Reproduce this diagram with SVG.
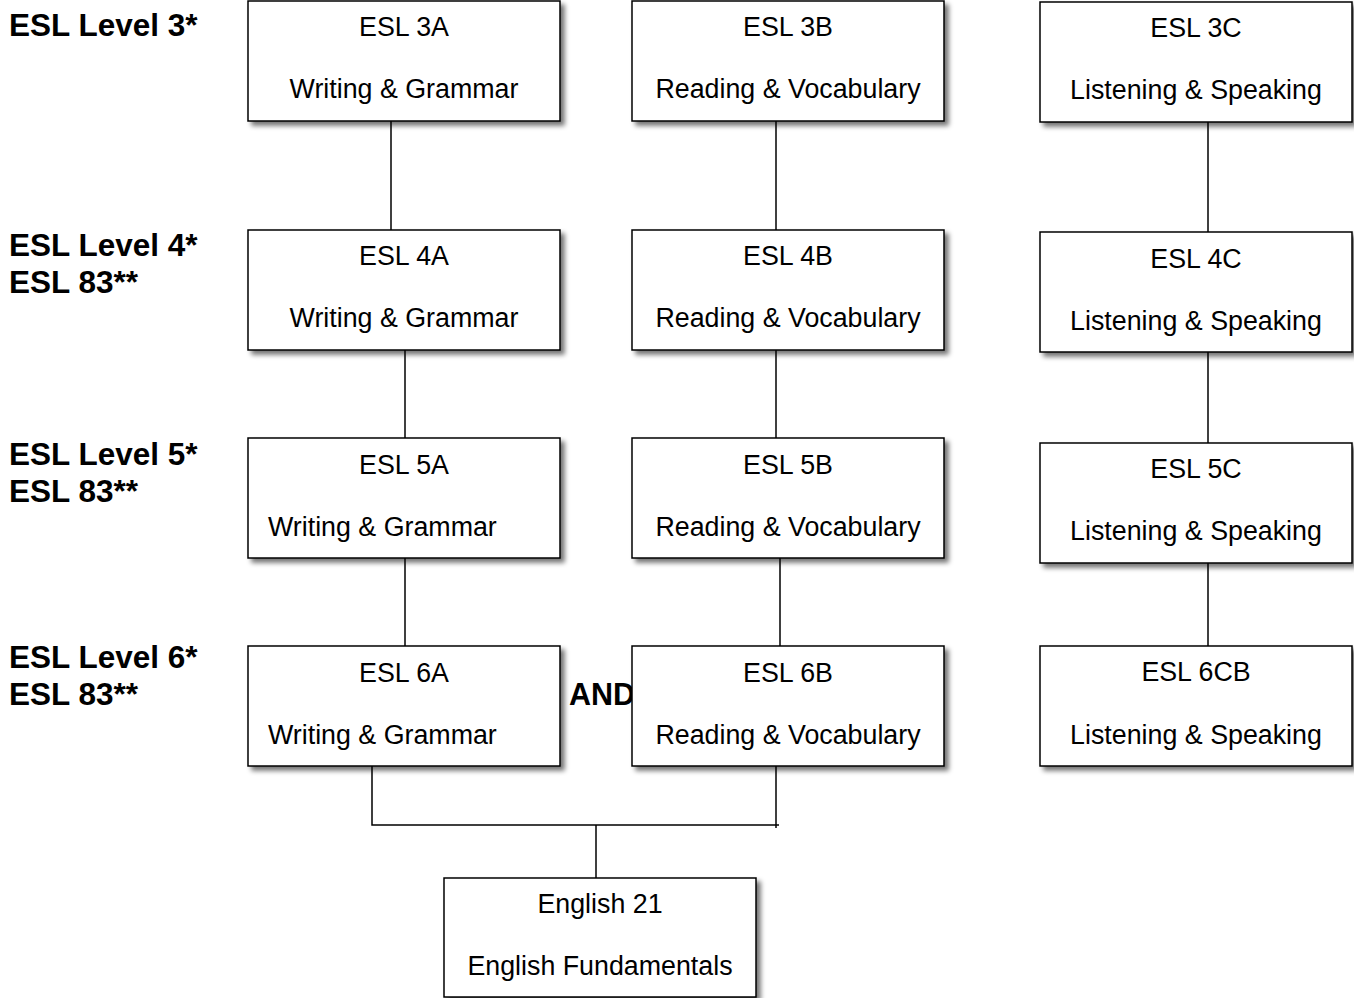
<svg xmlns="http://www.w3.org/2000/svg" width="1354" height="998" viewBox="0 0 1354 998">
<defs>
<filter id="sh" x="-5%" y="-5%" width="115%" height="125%">
<feGaussianBlur in="SourceAlpha" stdDeviation="2.5"/>
<feOffset dx="4" dy="4" result="b"/>
<feComponentTransfer><feFuncA type="linear" slope="0.55"/></feComponentTransfer>
<feMerge><feMergeNode/><feMergeNode in="SourceGraphic"/></feMerge>
</filter>
</defs>
<style>
.box{fill:#fff;stroke:#000;stroke-width:1.5;filter:url(#sh)}
.t{font-family:"Liberation Sans",Arial,sans-serif;font-size:26.8px;fill:#000;text-anchor:middle}
.s{text-anchor:start}
.l{font-family:"Liberation Sans",Arial,sans-serif;font-size:31.5px;font-weight:bold;fill:#000}
.a{font-family:"Liberation Sans",Arial,sans-serif;font-size:30.5px;font-weight:bold;fill:#000}
.c{stroke:#000;stroke-width:1.5;fill:none}
</style>
<rect width="1354" height="998" fill="#fff"/>
<g id="labels">
<text class="l" x="9" y="36">ESL Level 3*</text>
<text class="l" x="9" y="256">ESL Level 4*</text>
<text class="l" x="9" y="293">ESL 83**</text>
<text class="l" x="9" y="465">ESL Level 5*</text>
<text class="l" x="9" y="502">ESL 83**</text>
<text class="l" x="9" y="668">ESL Level 6*</text>
<text class="l" x="9" y="705">ESL 83**</text>
<text class="a" x="569" y="705">AND</text>
</g>
<g id="connectors">
<line class="c" x1="391" y1="121" x2="391" y2="230"/>
<line class="c" x1="776" y1="121" x2="776" y2="230"/>
<line class="c" x1="1208" y1="122" x2="1208" y2="232"/>
<line class="c" x1="405" y1="350" x2="405" y2="438"/>
<line class="c" x1="776" y1="350" x2="776" y2="438"/>
<line class="c" x1="1208" y1="352" x2="1208" y2="443"/>
<line class="c" x1="405" y1="558" x2="405" y2="646"/>
<line class="c" x1="780" y1="558" x2="780" y2="646"/>
<line class="c" x1="1208" y1="563" x2="1208" y2="646"/>
<polyline class="c" points="372,766 372,825 779,825"/>
<line class="c" x1="776" y1="766" x2="776" y2="828"/>
<line class="c" x1="596" y1="825" x2="596" y2="878"/>
</g>
<g id="n3A"><rect class="box" x="248" y="1" width="312" height="120"/><text class="t" x="404" y="36">ESL 3A</text><text class="t" x="404" y="98">Writing &amp; Grammar</text></g>
<g id="n3B"><rect class="box" x="632" y="1" width="312" height="120"/><text class="t" x="788" y="36">ESL 3B</text><text class="t" x="788" y="98">Reading &amp; Vocabulary</text></g>
<g id="n3C"><rect class="box" x="1040" y="2" width="312" height="120"/><text class="t" x="1196" y="37">ESL 3C</text><text class="t" x="1196" y="99">Listening &amp; Speaking</text></g>
<g id="n4A"><rect class="box" x="248" y="230" width="312" height="120"/><text class="t" x="404" y="265">ESL 4A</text><text class="t" x="404" y="327">Writing &amp; Grammar</text></g>
<g id="n4B"><rect class="box" x="632" y="230" width="312" height="120"/><text class="t" x="788" y="265">ESL 4B</text><text class="t" x="788" y="327">Reading &amp; Vocabulary</text></g>
<g id="n4C"><rect class="box" x="1040" y="232" width="312" height="120"/><text class="t" x="1196" y="268">ESL 4C</text><text class="t" x="1196" y="330">Listening &amp; Speaking</text></g>
<g id="n5A"><rect class="box" x="248" y="438" width="312" height="120"/><text class="t" x="404" y="474">ESL 5A</text><text class="t s" x="268" y="536">Writing &amp; Grammar</text></g>
<g id="n5B"><rect class="box" x="632" y="438" width="312" height="120"/><text class="t" x="788" y="474">ESL 5B</text><text class="t" x="788" y="536">Reading &amp; Vocabulary</text></g>
<g id="n5C"><rect class="box" x="1040" y="443" width="312" height="120"/><text class="t" x="1196" y="478">ESL 5C</text><text class="t" x="1196" y="540">Listening &amp; Speaking</text></g>
<g id="n6A"><rect class="box" x="248" y="646" width="312" height="120"/><text class="t" x="404" y="682">ESL 6A</text><text class="t s" x="268" y="744">Writing &amp; Grammar</text></g>
<g id="n6B"><rect class="box" x="632" y="646" width="312" height="120"/><text class="t" x="788" y="682">ESL 6B</text><text class="t" x="788" y="744">Reading &amp; Vocabulary</text></g>
<g id="n6CB"><rect class="box" x="1040" y="646" width="312" height="120"/><text class="t" x="1196" y="681">ESL 6CB</text><text class="t" x="1196" y="744">Listening &amp; Speaking</text></g>
<g id="nEng21"><rect class="box" x="444" y="878" width="312" height="119"/><text class="t" x="600" y="913">English 21</text><text class="t" x="600" y="975">English Fundamentals</text></g>
</svg>
